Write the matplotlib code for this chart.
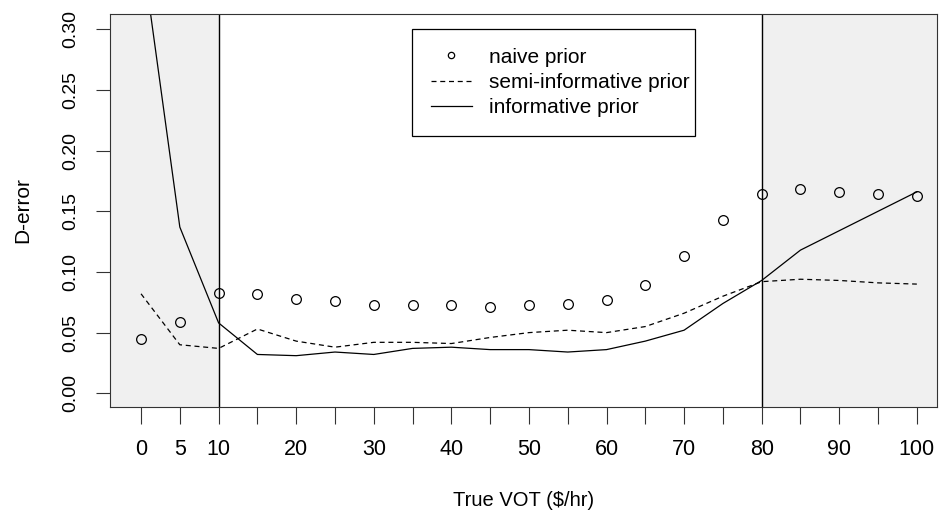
import matplotlib.pyplot as plt
import numpy as np

plt.rcParams['font.family'] = ['Liberation Sans', 'DejaVu Sans']

vot = [0, 5, 10, 15, 20, 25, 30, 35, 40, 45, 50, 55, 60, 65, 70, 75, 80, 85, 90, 95, 100]
naive = [0.045, 0.059, 0.083, 0.082, 0.078, 0.076, 0.073, 0.073, 0.073, 0.071, 0.073,
         0.074, 0.077, 0.089, 0.113, 0.143, 0.164, 0.168, 0.166, 0.164, 0.163]
semi = [0.082, 0.040, 0.037, 0.053, 0.043, 0.038, 0.042, 0.042, 0.041, 0.046, 0.050,
        0.052, 0.050, 0.055, 0.066, 0.080, 0.092, 0.094, 0.093, 0.091, 0.090]
informative = [0.37, 0.137, 0.058, 0.032, 0.031, 0.034, 0.032, 0.037, 0.038, 0.036, 0.036,
               0.034, 0.036, 0.043, 0.052, 0.074, 0.093, 0.118, 0.134, 0.150, 0.166]

xticks = np.arange(0, 101, 5)
xlabels = [str(v) if (v <= 10 or v % 10 == 0) else '' for v in xticks]
yticks = [0.00, 0.05, 0.10, 0.15, 0.20, 0.25, 0.30]

fig = plt.figure(figsize=(9.39, 5.14), dpi=100)
ax = fig.add_axes([110 / 939, 1 - 407 / 514, 827 / 939, 393 / 514])
xlo, xhi = -4.0, 102.6
ylo, yhi = -0.0113, 0.3126

# shaded regions outside 10-80
ax.axvspan(xlo, 10, color='#f0f0f0', zorder=0)
ax.axvspan(80, xhi, color='#f0f0f0', zorder=0)
ax.axvline(10, color='black', lw=1)
ax.axvline(80, color='black', lw=1)

ax.plot(vot, naive, 'o', mfc='none', mec='black', ms=7, mew=0.9, label='naive prior')
ax.plot(vot, semi, color='black', ls=(0, (4, 3)), lw=0.9, label='semi-informative prior')
ax.plot(vot, informative, color='black', lw=0.9, label='informative prior')

ax.set_xlim(xlo, xhi)
ax.set_ylim(ylo, yhi)
ax.set_xticks(xticks)
ax.set_xticklabels(xlabels, fontsize=15.5)
ax.set_yticks(yticks)
ax.set_yticklabels(['%.2f' % v for v in yticks], fontsize=14, rotation=90, va='center')
ax.tick_params(axis='x', length=12, pad=11, color='#333333')
ax.tick_params(axis='y', length=10, pad=12, color='#333333')
for s in ax.spines.values():
    s.set_color('#333333')

ax.set_xlabel('True VOT ($/hr)', fontsize=14.5, labelpad=22)
ax.set_ylabel('D-error', fontsize=15, labelpad=22)

leg = ax.legend(loc='upper left', bbox_to_anchor=(0.365, 0.762, 0.342, 0.2), mode='expand',
                fontsize=15, frameon=True, fancybox=False, edgecolor='black', framealpha=1,
                handlelength=2.0, handletextpad=0.8, borderpad=0.9, labelspacing=0.3,
                borderaxespad=0, markerscale=0.65)
leg.get_frame().set_linewidth(0.9)

fig.savefig('out.png', dpi=100)
